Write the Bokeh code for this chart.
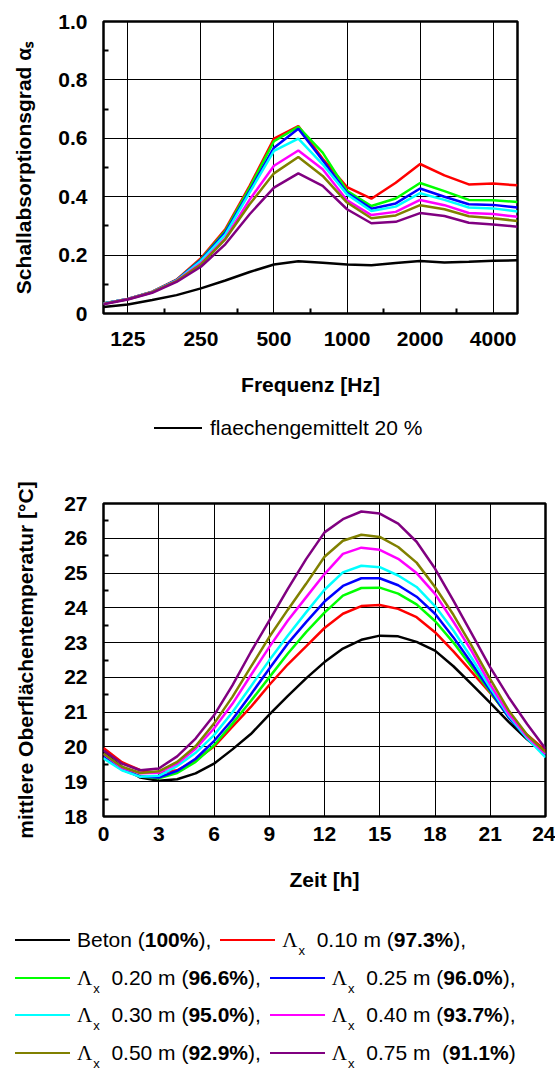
from bokeh.plotting import figure
from bokeh.layouts import column
from bokeh.models import FixedTicker, Range1d, Div
from bokeh.embed import file_html
from bokeh.resources import INLINE

# ---------------- data: top chart (absorption) ----------------
freq_labels = ["100", "125", "160", "200", "250", "315", "400", "500", "630", "800",
               "1000", "1250", "1600", "2000", "2500", "3150", "4000", "5000"]
freq_tick_labels = ["125", "250", "500", "1000", "2000", "4000"]

abs_avg20 = [0.022, 0.031, 0.046, 0.063, 0.086, 0.113, 0.142, 0.168, 0.179, 0.174,
             0.168, 0.165, 0.173, 0.180, 0.175, 0.177, 0.181, 0.182]
abs_010 = [0.034, 0.050, 0.075, 0.116, 0.189, 0.288, 0.437, 0.599, 0.642, 0.530,
           0.433, 0.393, 0.448, 0.512, 0.473, 0.442, 0.445, 0.439]
abs_020 = [0.034, 0.050, 0.074, 0.114, 0.185, 0.282, 0.430, 0.590, 0.639, 0.551,
           0.420, 0.368, 0.394, 0.447, 0.419, 0.389, 0.388, 0.382]
abs_025 = [0.034, 0.050, 0.074, 0.114, 0.183, 0.277, 0.420, 0.568, 0.633, 0.525,
           0.413, 0.359, 0.377, 0.428, 0.400, 0.374, 0.372, 0.363]
abs_030 = [0.034, 0.050, 0.074, 0.113, 0.180, 0.270, 0.414, 0.557, 0.599, 0.511,
           0.408, 0.351, 0.366, 0.412, 0.389, 0.363, 0.360, 0.349]
abs_040 = [0.033, 0.050, 0.073, 0.112, 0.172, 0.257, 0.390, 0.506, 0.558, 0.494,
           0.388, 0.337, 0.348, 0.389, 0.371, 0.344, 0.341, 0.331]
abs_050 = [0.033, 0.049, 0.073, 0.111, 0.168, 0.254, 0.374, 0.480, 0.536, 0.471,
           0.380, 0.326, 0.336, 0.371, 0.357, 0.333, 0.326, 0.317]
abs_075 = [0.032, 0.048, 0.071, 0.108, 0.160, 0.237, 0.340, 0.431, 0.480, 0.437,
           0.357, 0.309, 0.314, 0.344, 0.334, 0.311, 0.305, 0.297]

abs_y_ticks = [0, 0.2, 0.4, 0.6, 0.8, 1.0]
abs_y_labels = ["0", "0.2", "0.4", "0.6", "0.8", "1.0"]

# ---------------- data: bottom chart (temperature) ----------------
hours = list(range(25))
hour_ticks = [0, 3, 6, 9, 12, 15, 18, 21, 24]
temp_ticks = [18, 19, 20, 21, 22, 23, 24, 25, 26, 27]

t_beton = [19.85, 19.43, 19.12, 19.03, 19.07, 19.24, 19.52, 19.93, 20.37, 20.93, 21.46, 21.97,
           22.44, 22.83, 23.08, 23.2, 23.18, 23.02, 22.77, 22.32, 21.8, 21.27, 20.72, 20.22, 19.8]
t_010 = [19.97, 19.56, 19.33, 19.25, 19.33, 19.62, 20.01, 20.58, 21.15, 21.78, 22.37, 22.89,
         23.42, 23.83, 24.05, 24.08, 23.97, 23.73, 23.3, 22.75, 22.15, 21.55, 20.9, 20.35, 19.9]
t_020 = [19.7, 19.35, 19.15, 19.1, 19.25, 19.57, 20.05, 20.67, 21.32, 22.0, 22.68, 23.3,
         23.86, 24.35, 24.57, 24.58, 24.41, 24.1, 23.62, 23.0, 22.3, 21.58, 20.85, 20.25, 19.78]
t_025 = [19.72, 19.35, 19.15, 19.12, 19.31, 19.66, 20.17, 20.79, 21.51, 22.25, 22.97, 23.59,
         24.18, 24.63, 24.85, 24.85, 24.65, 24.32, 23.83, 23.15, 22.4, 21.62, 20.85, 20.25, 19.75]
t_030 = [19.67, 19.33, 19.14, 19.17, 19.45, 19.83, 20.34, 21.0, 21.74, 22.49, 23.2, 23.87,
         24.52, 25.02, 25.21, 25.17, 24.93, 24.6, 24.05, 23.35, 22.55, 21.7, 20.9, 20.25, 19.7]
t_040 = [19.8, 19.4, 19.24, 19.26, 19.52, 19.95, 20.53, 21.24, 22.06, 22.87, 23.63, 24.3,
         24.97, 25.55, 25.73, 25.67, 25.41, 25.0, 24.4, 23.6, 22.75, 21.8, 20.95, 20.3, 19.8]
t_050 = [19.81, 19.43, 19.25, 19.3, 19.57, 20.02, 20.67, 21.44, 22.3, 23.16, 23.94, 24.69,
         25.47, 25.93, 26.1, 26.04, 25.75, 25.3, 24.6, 23.8, 22.9, 21.95, 21.05, 20.35, 19.85]
t_075 = [19.9, 19.52, 19.33, 19.38, 19.73, 20.24, 20.91, 21.77, 22.73, 23.63, 24.54, 25.4,
         26.17, 26.55, 26.77, 26.71, 26.42, 25.9, 25.13, 24.21, 23.25, 22.29, 21.43, 20.66, 19.95]

series_colors = ["#000000", "#FF0000", "#00FF00", "#0000FF", "#00FFFF", "#FF00FF", "#808000", "#800080"]
legend_names = ["Beton", "0.10 m", "0.20 m", "0.25 m", "0.30 m", "0.40 m", "0.50 m", "0.75 m"]
legend_shares = ["100%", "97.3%", "96.6%", "96.0%", "95.0%", "93.7%", "92.9%", "91.1%"]
top_legend_label = "flaechengemittelt 20 %"

FONT = "Liberation Sans"
FS = "21px"

abs_series = [abs_avg20, abs_010, abs_020, abs_025, abs_030, abs_040, abs_050, abs_075]
temp_series = [t_beton, t_010, t_020, t_025, t_030, t_040, t_050, t_075]


def style_axes(p):
    for ax in (p.xaxis[0], p.yaxis[0]):
        ax.axis_line_color = None
        ax.major_tick_out = 0
        ax.major_tick_in = 0
        ax.minor_tick_out = 0
        ax.minor_tick_in = 5
        ax.minor_tick_line_color = "black"
        ax.minor_tick_line_width = 2
        ax.major_label_text_font = FONT
        ax.major_label_text_font_size = FS
        ax.major_label_text_font_style = "bold"
        ax.major_label_text_color = "black"
        ax.axis_label_text_font = FONT
        ax.axis_label_text_font_size = FS
        ax.axis_label_text_font_style = "bold"
        ax.axis_label_text_color = "black"
    p.grid.grid_line_color = "black"
    p.grid.grid_line_width = 1
    p.outline_line_color = "black"
    p.outline_line_width = 2.5
    p.background_fill_color = "white"
    p.border_fill_color = "white"


# ---------------- top chart ----------------
xi = list(range(len(freq_labels)))
p1 = figure(width=527, height=405, x_range=Range1d(0, len(freq_labels) - 1), y_range=Range1d(0, 1),
            output_backend="svg", toolbar_location=None,
            min_border_left=103, min_border_right=10, min_border_top=21, min_border_bottom=92)
style_axes(p1)
x_major = [freq_labels.index(l) for l in freq_tick_labels]
x_minor = [a + 1.5 for a in x_major[:-1]]
p1.xaxis.ticker = FixedTicker(ticks=x_major, minor_ticks=x_minor)
p1.xgrid.ticker = FixedTicker(ticks=x_major)
p1.xaxis.major_label_overrides = {t: l for t, l in zip(x_major, freq_tick_labels)}
y_minor = [round(t + 0.1, 2) for t in abs_y_ticks[:-1]]
p1.yaxis.ticker = FixedTicker(ticks=abs_y_ticks, minor_ticks=y_minor)
p1.ygrid.ticker = FixedTicker(ticks=abs_y_ticks)
p1.yaxis.major_label_overrides = {t: l for t, l in zip(abs_y_ticks, abs_y_labels)}
p1.xaxis.axis_label = "Frequenz [Hz]"
p1.yaxis.axis_label = "Schallabsorptionsgrad \u03b1\u209b"
p1.xaxis.major_label_standoff = 18
p1.xaxis.axis_label_standoff = 24
p1.yaxis.major_label_standoff = 16
p1.yaxis.axis_label_standoff = 20
for ys, c in zip(abs_series, series_colors):
    p1.line(xi, ys, line_color=c, line_width=2.5)

# ---------------- legend for top chart (HTML) ----------------
base_style = "font-family:'Liberation Sans',Arial,sans-serif;font-size:21px;color:#000;"
swatch = ("<span style=\"display:inline-block;width:{w}px;height:0;border-top:2.5px solid {c};"
          "vertical-align:middle;margin-right:{m}px;position:relative;top:-1px\"></span>")
leg1_html = (
    f"<div style=\"position:relative;width:555px;height:50px;{base_style}\">"
    f"<div style=\"position:absolute;left:154px;top:11px;height:24px;line-height:24px;white-space:pre\">"
    + swatch.format(w=48, c=series_colors[0], m=8)
    + f"{top_legend_label}</div></div>"
)
leg1 = Div(text=leg1_html, width=555, height=50, margin=0)

# ---------------- bottom chart ----------------
p2 = figure(width=555, height=440, x_range=Range1d(0, 24), y_range=Range1d(18, 27),
            output_backend="svg", toolbar_location=None,
            min_border_left=103, min_border_right=10, min_border_top=48, min_border_bottom=79)
style_axes(p2)
p2.xaxis.ticker = FixedTicker(ticks=hour_ticks)
p2.xgrid.ticker = FixedTicker(ticks=hour_ticks)
t_minor = [t + 0.5 for t in temp_ticks[:-1]]
p2.yaxis.ticker = FixedTicker(ticks=temp_ticks, minor_ticks=t_minor)
p2.ygrid.ticker = FixedTicker(ticks=temp_ticks)
p2.xaxis.axis_label = "Zeit [h]"
p2.yaxis.axis_label = "mittlere Oberfl\u00e4chentemperatur [\u00b0C]"
p2.xaxis.major_label_standoff = 10
p2.xaxis.axis_label_standoff = 24
p2.yaxis.major_label_standoff = 16
p2.yaxis.axis_label_standoff = 24
for ys, c in zip(temp_series, series_colors):
    p2.line(hours, ys, line_color=c, line_width=2.5)

# ---------------- legend for bottom chart (HTML) ----------------
rows = [[0, 1], [2, 3], [4, 5], [6, 7]]
row_centers = [45, 82.5, 120, 157.5]
n_items = len(legend_names)
lam = ("<span style=\"font-family:'Liberation Serif','Times New Roman',serif\">\u039b</span>"
       "<span style=\"font-size:13px;position:relative;top:8px;margin-left:1px\">x</span>")
parts = []
for r, idxs in enumerate(rows):
    items = []
    for i in idxs:
        s = swatch.format(w=55, c=series_colors[i], m=7)
        if i == 0:
            label = f"{legend_names[i]} (<b>{legend_shares[i]}</b>),"
        elif i < n_items - 1:
            label = f"{lam}  {legend_names[i]} (<b>{legend_shares[i]}</b>),"
        else:
            label = f"{lam}  {legend_names[i]}  (<b>{legend_shares[i]}</b>)"
        items.append(s + label)
    row_html = "<span style=\"display:inline-block;width:9px\"></span>".join(items)
    top = row_centers[r] - 12
    parts.append(f"<div style=\"position:absolute;left:15px;top:{top}px;height:24px;"
                 f"line-height:24px;white-space:pre\">{row_html}</div>")
leg2_html = f"<div style=\"position:relative;width:555px;height:170px;{base_style}\">" + "".join(parts) + "</div>"
leg2 = Div(text=leg2_html, width=555, height=170, margin=0)

layout = column(p1, leg1, p2, leg2, spacing=0)
open("out.html", "w").write(file_html(layout, INLINE))
